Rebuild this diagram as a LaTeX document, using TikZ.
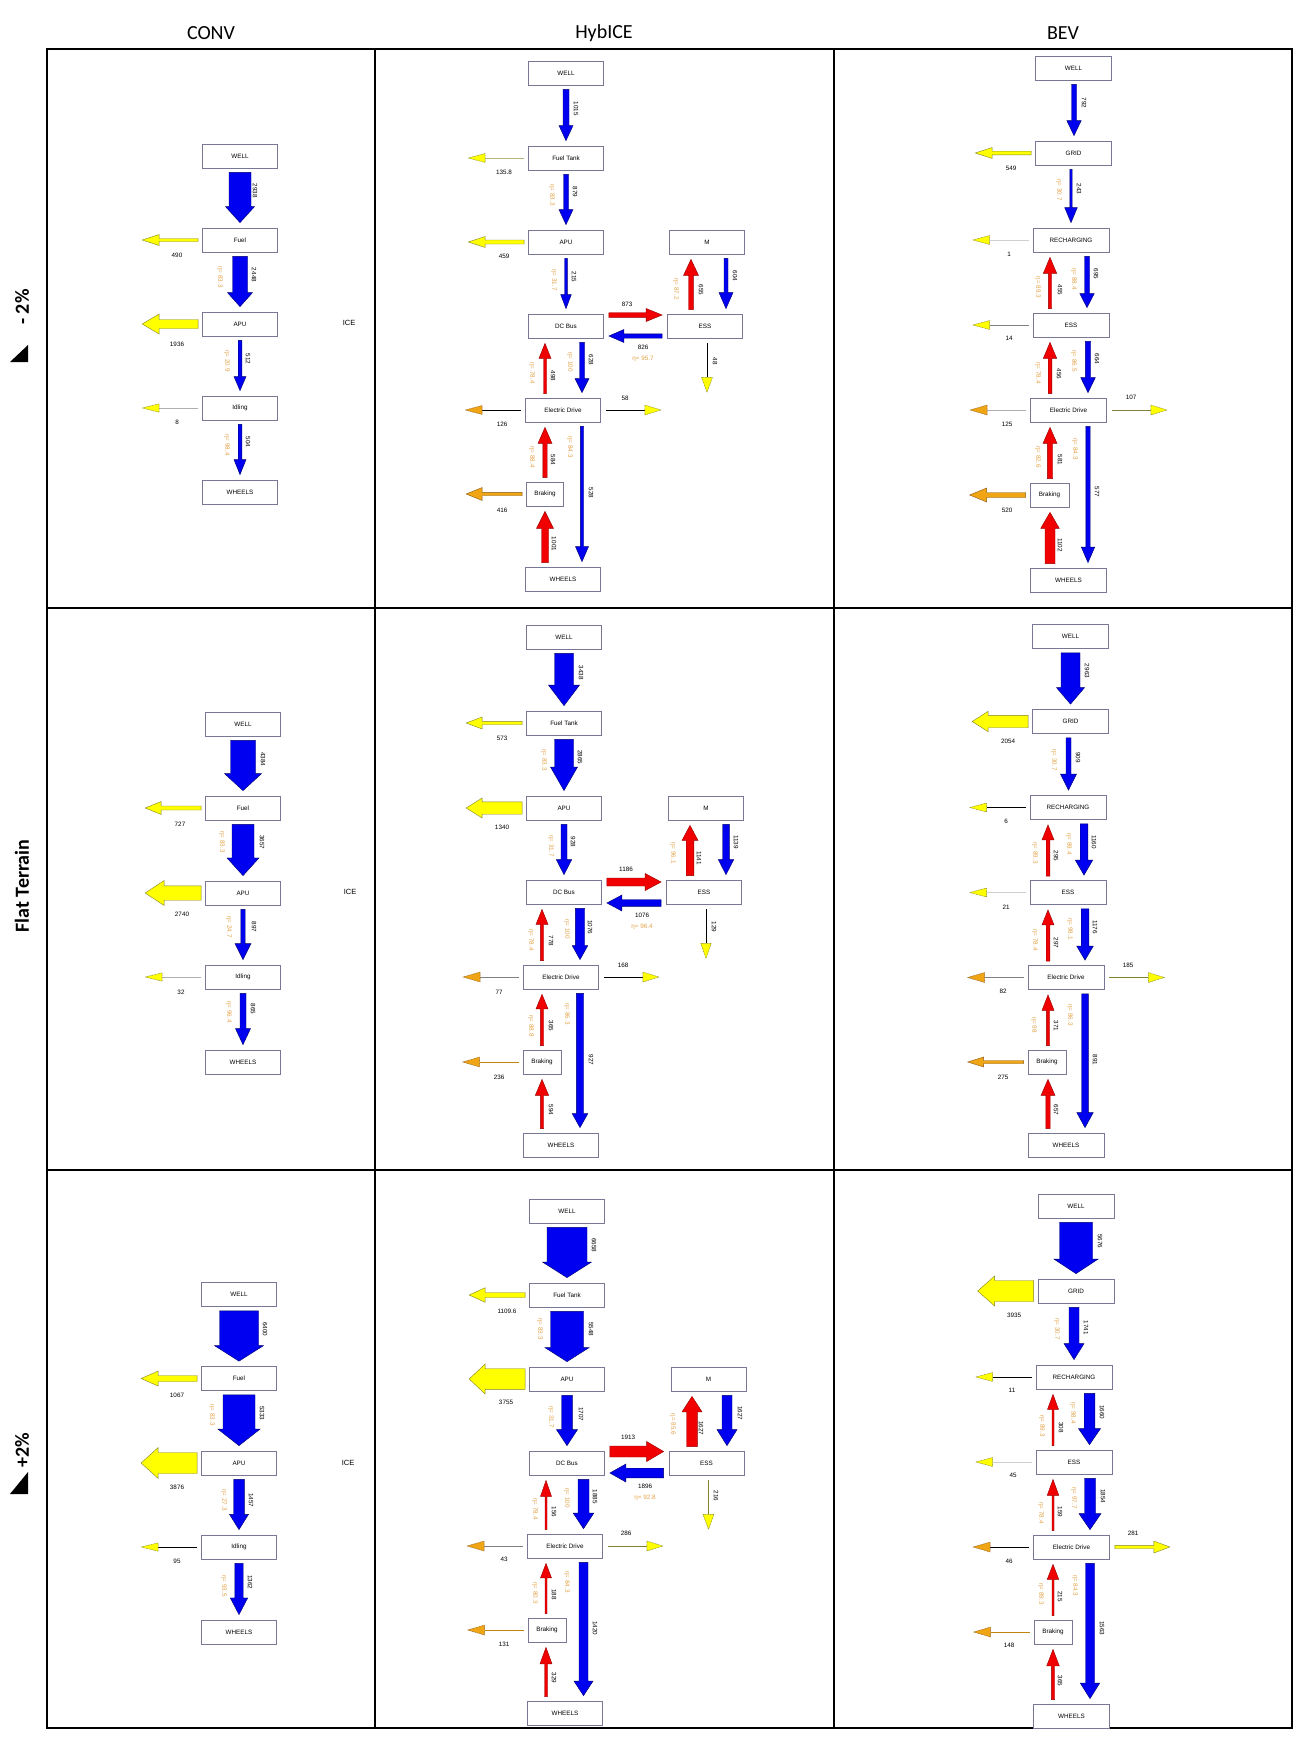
\documentclass[tikz,border=0pt]{standalone}
\usepackage{fontspec}
\setmainfont{Liberation Sans}
\newfontfamily\calib{Carlito}
\usetikzlibrary{calc}
\definecolor{blueF}{RGB}{0,0,240}
\definecolor{blueD}{RGB}{0,0,110}
\definecolor{redF}{RGB}{240,0,0}
\definecolor{redD}{RGB}{150,0,0}
\definecolor{yelF}{RGB}{255,255,0}
\definecolor{yelD}{RGB}{130,130,40}
\definecolor{orF}{RGB}{240,165,20}
\definecolor{orD}{RGB}{140,90,20}
\definecolor{etac}{RGB}{228,162,70}
\definecolor{lgray}{RGB}{175,175,175}
\definecolor{boxD}{RGB}{120,120,150}
\newcounter{labc}
\tikzset{
 bx/.style={draw=boxD, line width=0.7pt, fill=white, minimum height=24pt, inner sep=0pt, font=\fontsize{6.3}{7}\selectfont},
 vl/.style={font=\fontsize{6.3}{7}\selectfont, inner sep=0pt, rotate=-90},
 hl/.style={font=\fontsize{6.3}{7}\selectfont, inner sep=0pt},
 el/.style={font=\fontsize{6.3}{7}\selectfont, inner sep=0pt, rotate=-90, text=etac},
 eh/.style={font=\fontsize{6.3}{7}\selectfont, inner sep=0pt, text=etac},
 blueA/.style={fill=blueF, draw=blueD, line width=0.4pt},
 redA/.style={fill=redF, draw=redD, line width=0.4pt},
 yelA/.style={fill=yelF, draw=yelD, line width=0.4pt},
 orA/.style={fill=orF, draw=orD, line width=0.4pt},
 yelH/.style={fill=yelF, draw=yelD, line width=0.4pt, dash pattern=on 1pt off 0.6pt},
 orH/.style={fill=orF, draw=orD, line width=0.4pt, dash pattern=on 1pt off 0.6pt},
 hdr/.style={font=\calib\fontsize{20}{24}\selectfont, inner sep=0pt},
 rlab/.style={font=\calib\bfseries\fontsize{20}{24}\selectfont, inner sep=0pt, rotate=90},
}
\newcommand\BX[5]{\node[bx,minimum width=#4pt] (#1) at (#2,#3) {#5};}
\newcommand\VT[3]{\stepcounter{labc}\node[vl] (t\number\value{labc}) at (#1,#2) {#3};}
\newcommand\HT[3]{\stepcounter{labc}\node[hl] (t\number\value{labc}) at (#1,#2) {#3};}
\newcommand\ET[3]{\stepcounter{labc}\node[el] (t\number\value{labc}) at (#1,#2) {η= #3};}
\newcommand\EH[3]{\stepcounter{labc}\node[eh] (t\number\value{labc}) at (#1,#2) {η= #3};}
% block arrows: style, start, tip, half shaft, half head, head length
\newcommand\AD[6]{\filldraw[#1] let \p1=(#2), \p2=(#3) in (\x1-#4pt,\y1) -- (\x1+#4pt,\y1) -- (\x1+#4pt,\y2+#6pt) -- (\x1+#5pt,\y2+#6pt) -- (\x1,\y2) -- (\x1-#5pt,\y2+#6pt) -- (\x1-#4pt,\y2+#6pt) -- cycle;}
\newcommand\AU[6]{\filldraw[#1] let \p1=(#2), \p2=(#3) in (\x1-#4pt,\y1) -- (\x1+#4pt,\y1) -- (\x1+#4pt,\y2-#6pt) -- (\x1+#5pt,\y2-#6pt) -- (\x1,\y2) -- (\x1-#5pt,\y2-#6pt) -- (\x1-#4pt,\y2-#6pt) -- cycle;}
\newcommand\AL[6]{\filldraw[#1] let \p1=(#2), \p2=(#3) in (\x1,\y1+#4pt) -- (\x1,\y1-#4pt) -- (\x2+#6pt,\y1-#4pt) -- (\x2+#6pt,\y1-#5pt) -- (\x2,\y1) -- (\x2+#6pt,\y1+#5pt) -- (\x2+#6pt,\y1+#4pt) -- cycle;}
\newcommand\AR[6]{\filldraw[#1] let \p1=(#2), \p2=(#3) in (\x1,\y1+#4pt) -- (\x1,\y1-#4pt) -- (\x2-#6pt,\y1-#4pt) -- (\x2-#6pt,\y1-#5pt) -- (\x2,\y1) -- (\x2-#6pt,\y1+#5pt) -- (\x2-#6pt,\y1+#4pt) -- cycle;}
% line losses: line colour, head style, start, tip, half head, head length
\newcommand\LNL[6]{\draw[#1,line width=0.7pt] let \p1=(#3), \p2=(#4) in (\x1,\y1) -- (\x2+#6pt,\y1);
 \filldraw[#2] let \p1=(#3), \p2=(#4) in (\x2+#6pt,\y1+#5pt) -- (\x2,\y1) -- (\x2+#6pt,\y1-#5pt) -- cycle;}
\newcommand\LNR[6]{\draw[#1,line width=0.7pt] let \p1=(#3), \p2=(#4) in (\x1,\y1) -- (\x2-#6pt,\y1);
 \filldraw[#2] let \p1=(#3), \p2=(#4) in (\x2-#6pt,\y1+#5pt) -- (\x2,\y1) -- (\x2-#6pt,\y1-#5pt) -- cycle;}
\newcommand\LND[6]{\draw[#1,line width=0.7pt] let \p1=(#3), \p2=(#4) in (\x1,\y1) -- (\x1,\y2+#6pt);
 \filldraw[#2] let \p1=(#3), \p2=(#4) in (\x1-#5pt,\y2+#6pt) -- (\x1,\y2) -- (\x1+#5pt,\y2+#6pt) -- cycle;}
% node-to-node connectors
\newcommand\VD[7]{\AD{#1}{$(#2.south)+(#4,4)$}{$(#3.north)+(#4,-5)$}{#5}{#6}{#7}}
\newcommand\VU[7]{\AU{#1}{$(#2.north)+(#4,-4)$}{$(#3.south)+(#4,5)$}{#5}{#6}{#7}}
\newcommand\HR[7]{\AR{#1}{$(#2.east)+(5,#4)$}{$(#3.west)+(-5,#4)$}{#5}{#6}{#7}}
\newcommand\HL[7]{\AL{#1}{$(#2.west)+(-5,#4)$}{$(#3.east)+(5,#4)$}{#5}{#6}{#7}}
\newcommand\LB[5]{\AL{#1}{$(#2.west)+(-4,0)$}{$(#2.west)+(-60,0)$}{#3}{#4}{#5}}
\newcommand\LBR[5]{\AR{#1}{$(#2.east)+(5,0)$}{$(#2.east)+(60,0)$}{#3}{#4}{#5}}
\newcommand\LL[4]{\LNL{#1}{#2}{$(#3.west)+(-4,0)$}{$(#3.west)+(-60,0)$}{#4}{17}}
\newcommand\LR[4]{\LNR{#1}{#2}{$(#3.east)+(5,0)$}{$(#3.east)+(60,0)$}{#4}{16}}
\newcommand\LD[4]{\LND{#1}{#2}{$(#3.south)+(2,5)$}{$(#3.south)+(2,54)$}{#4}{15}}
\begin{document}
\begin{tikzpicture}[x=1pt,y=-1pt]
\useasboundingbox (0,0) rectangle (1301,1742);
\fill[white] (0,0) rectangle (1301,1742);
% ---------- table ----------
\draw[line width=2pt] (47,49) rectangle (1292,1728);
\draw[line width=2pt] (375,49) -- (375,1728) (834,49) -- (834,1728) (47,608) -- (1292,608) (47,1170) -- (1292,1170);
\node[hdr] (hc) at (211,33) {CONV};
\node[hdr] (hh) at (604,33) {HybICE};
\node[hdr] (hb) at (1063,33) {BEV};
\node[rlab] (r1) at (22,307) {- 2\%};
\fill (10,362) -- (28,362) -- (28,345) -- cycle;
\node[rlab] (r2) at (22,886) {Flat Terrain};
\node[rlab] (r3) at (22,1450) {+2\%};
\fill (10,1494) -- (28,1494) -- (28,1472) -- cycle;
% ---------- CONV row 1 ----------
\BX{c1w}{240}{156}{75}{WELL}
\BX{c1f}{240}{240}{75}{Fuel}
\BX{c1a}{240}{324}{75}{APU}
\BX{c1i}{240}{408}{75}{Idling}
\BX{c1h}{240}{492}{75}{WHEELS}
\VD{blueA}{c1w}{c1f}{0}{11}{14.5}{16}
\VD{blueA}{c1f}{c1a}{0}{7.5}{12.5}{14}
\VD{blueA}{c1a}{c1i}{0}{1.8}{6}{14}
\VD{blueA}{c1i}{c1h}{0}{1.8}{6}{15}
\LB{yelA}{c1f}{1.5}{5.5}{17}
\LB{yelA}{c1a}{4.5}{10}{17}
\LL{lgray}{yelH}{c1i}{4.2}
\VT{255}{191}{2938}
\VT{254}{275}{2448} \ET{220}{277}{83.3}
\VT{248}{359}{512} \ET{227}{361}{20.9}
\VT{248}{442}{504} \ET{227}{445}{98.4}
\HT{177}{255}{490} \HT{177}{344}{1936} \HT{177}{422}{8}
\node[font=\fontsize{7.5}{9}\selectfont] (ice1) at (349,323) {ICE};
% ---------- CONV row 2 ----------
\BX{c2w}{243}{724}{75}{WELL}
\BX{c2f}{243}{808}{75}{Fuel}
\BX{c2a}{243}{893}{75}{APU}
\BX{c2i}{243}{977}{75}{Idling}
\BX{c2h}{243}{1062}{75}{WHEELS}
\VD{blueA}{c2w}{c2f}{0}{12.5}{18.5}{17}
\VD{blueA}{c2f}{c2a}{0}{11}{16}{17.7}
\VD{blueA}{c2a}{c2i}{0}{2.2}{8}{16}
\VD{blueA}{c2i}{c2h}{0}{3}{7.5}{16}
\LB{yelA}{c2f}{2}{6.5}{16}
\LB{yelA}{c2a}{7.2}{12.5}{19}
\LL{lgray}{yelH}{c2i}{4.2}
\VT{263}{759}{4384}
\VT{262}{842}{3657} \ET{222}{842}{83.3}
\VT{254}{927}{897} \ET{229}{927}{24.7}
\VT{253}{1009}{865} \ET{229}{1012}{96.4}
\HT{180}{824}{727} \HT{182}{914}{2740} \HT{181}{992}{32}
\node[font=\fontsize{7.5}{9}\selectfont] (ice2) at (350,892) {ICE};
% ---------- CONV row 3 ----------
\BX{c3w}{239}{1294.5}{75}{WELL}
\BX{c3f}{239}{1378.5}{75}{Fuel}
\BX{c3a}{239}{1463}{75}{APU}
\BX{c3i}{239}{1547}{75}{Idling}
\BX{c3h}{239}{1632}{75}{WHEELS}
\VD{blueA}{c3w}{c3f}{0}{19.5}{24.5}{15.5}
\VD{blueA}{c3f}{c3a}{0}{16}{21}{16.5}
\VD{blueA}{c3a}{c3i}{0}{5.3}{9.5}{15.3}
\VD{blueA}{c3i}{c3h}{0}{4.2}{8.7}{16.7}
\LB{yelA}{c3f}{3}{7.5}{17}
\LB{yelA}{c3a}{10.5}{15.5}{17}
\LL{black}{yelH}{c3i}{4.2}
\VT{265}{1329}{6400}
\VT{262}{1413}{5333} \ET{212}{1415}{83.3}
\VT{251}{1500}{1457} \ET{224}{1500}{27.3}
\VT{250}{1582}{1362} \ET{224}{1586}{93.5}
\HT{177}{1395.5}{1067} \HT{177}{1487.5}{3876} \HT{177}{1561}{95}
\node[font=\fontsize{7.5}{9}\selectfont] (ice3) at (348,1463) {ICE};
% ---------- HybICE row 1 ----------
\BX{h1w}{566}{73}{75}{WELL}
\BX{h1f}{566}{158}{75}{Fuel Tank}
\BX{h1a}{566}{242}{75}{APU}
\BX{h1m}{707}{242}{75}{M}
\BX{h1d}{566}{326}{75}{DC Bus}
\BX{h1e}{705}{326}{75}{ESS}
\BX{h1x}{563}{410}{75}{Electric Drive}
\BX{h1b}{545}{494}{37}{Braking}
\BX{h1h}{563}{579}{75}{WHEELS}
\VD{blueA}{h1w}{h1f}{0}{3}{7}{15}
\VD{blueA}{h1f}{h1a}{0}{2.5}{7}{15}
\VD{blueA}{h1a}{h1d}{0}{1.3}{5.3}{14}
\HR{redA}{h1d}{h1e}{-11}{2.3}{6.5}{16}
\HL{blueA}{h1e}{h1d}{10}{2.2}{6.5}{15}
\VU{redA}{h1e}{h1m}{-14}{2.3}{7.5}{16}
\VD{blueA}{h1m}{h1e}{19}{2}{7}{16}
\LD{black}{yelH}{h1e}{5.5}
\VU{redA}{h1x}{h1d}{-18}{1.5}{6}{15}
\VD{blueA}{h1d}{h1x}{16}{2.5}{7}{14}
\LR{black}{yelH}{h1x}{5}
\LL{black}{orH}{h1x}{4.5}
\VU{redA}{h1b}{h1x}{0}{2.2}{7}{16}
\VD{blueA}{h1x}{h1h}{19}{1.7}{6.5}{15}
\VU{redA}{h1h}{h1b}{-18}{3.5}{8.5}{17}
\LB{orA}{h1b}{1.7}{6.5}{16}
\LL{yelD!60}{yelH}{h1f}{4.5}
\LB{yelA}{h1a}{2}{5.5}{17}
\VT{576}{109}{1015}
\VT{575}{192}{879} \ET{552}{195}{83.3}
\VT{574}{277}{215} \ET{554}{280}{31.7}
\HT{627}{304}{873}
\HT{643}{347}{826} \EH{643}{359}{95.7}
\VT{701}{290}{655} \ET{676}{289}{87.2}
\VT{735}{276}{604}
\VT{715}{361}{48}
\VT{553}{376}{498} \ET{532}{373}{78.4}
\VT{591}{360}{628} \ET{570}{362}{100}
\HT{625}{398}{58}
\HT{502}{424}{126}
\VT{553}{460}{584} \ET{532}{457}{88.4}
\VT{591}{493}{528} \ET{570}{447}{84.3}
\VT{554}{544}{1001}
\HT{502}{510}{416}
\HT{504}{172}{135.8}
\HT{504}{256}{459}
% ---------- HybICE row 2 ----------
\BX{h2w}{564}{637}{75}{WELL}
\BX{h2f}{564}{723}{75}{Fuel Tank}
\BX{h2a}{564}{808}{75}{APU}
\BX{h2m}{706}{808}{75}{M}
\BX{h2d}{564}{892}{75}{DC Bus}
\BX{h2e}{704}{892}{75}{ESS}
\BX{h2x}{561}{977}{75}{Electric Drive}
\BX{h2b}{542}{1062}{38}{Braking}
\BX{h2h}{561}{1145}{75}{WHEELS}
\VD{blueA}{h2w}{h2f}{0}{9.5}{15.5}{20.5}
\VD{blueA}{h2f}{h2a}{0}{9.5}{13.5}{23.6}
\VD{blueA}{h2a}{h2d}{0}{3}{7.7}{15}
\HR{redA}{h2d}{h2e}{-10}{4}{8.5}{16}
\HL{blueA}{h2e}{h2d}{11}{3.3}{8}{15}
\VU{redA}{h2e}{h2m}{-14}{3.8}{8}{15}
\VD{blueA}{h2m}{h2e}{20}{3.3}{7.7}{15}
\LD{black}{yelH}{h2e}{5.3}
\VU{redA}{h2x}{h2d}{-19}{1.7}{6}{15}
\VD{blueA}{h2d}{h2x}{16}{4.7}{7.8}{14}
\LR{black}{yelH}{h2x}{5}
\LL{gray}{orH}{h2x}{5}
\VU{redA}{h2b}{h2x}{0}{1.7}{6}{14.5}
\VD{blueA}{h2x}{h2h}{19}{3.7}{7.8}{14}
\VU{redA}{h2h}{h2b}{-19}{1.7}{6.7}{16}
\LL{orF!80!black}{orH}{h2b}{5}
\LB{yelA}{h2f}{1.7}{6}{16}
\LB{yelA}{h2a}{6.2}{10}{16}
\VT{581}{672.5}{3438}
\VT{580}{757}{2865} \ET{544}{760}{83.3}
\VT{573}{842}{928} \ET{551}{846}{31.7}
\HT{626}{869}{1186}
\HT{642}{915}{1076} \EH{642}{927}{96.4}
\VT{699}{858}{1141} \ET{673}{853}{96.1}
\VT{736}{842}{1139}
\VT{714}{927}{129}
\VT{551}{941}{778} \ET{531}{940}{78.4}
\VT{590}{927}{1076} \ET{567}{929}{100}
\HT{623}{965}{168}
\HT{499}{992}{77}
\VT{551}{1026}{365} \ET{531}{1026}{88.8}
\VT{591}{1060}{927} \ET{567}{1014}{86.3}
\VT{551}{1110}{594}
\HT{499}{1077}{236}
\HT{502}{738}{573}
\HT{502}{827}{1340}
% ---------- HybICE row 3 ----------
\BX{h3w}{567}{1211}{75}{WELL}
\BX{h3f}{567}{1295}{75}{Fuel Tank}
\BX{h3a}{567}{1379}{75}{APU}
\BX{h3m}{708.5}{1379}{75}{M}
\BX{h3d}{567}{1463}{75}{DC Bus}
\BX{h3e}{706.5}{1463}{75}{ESS}
\BX{h3x}{565}{1546}{75}{Electric Drive}
\BX{h3b}{547}{1630}{38}{Braking}
\BX{h3h}{565}{1713}{75}{WHEELS}
\VD{blueA}{h3w}{h3f}{0}{20}{24.5}{15.6}
\VD{blueA}{h3f}{h3a}{0}{16.5}{22}{14}
\VD{blueA}{h3a}{h3d}{0}{5.3}{10.5}{16}
\HR{redA}{h3d}{h3e}{-11.5}{5.5}{10}{17}
\HL{blueA}{h3e}{h3d}{10}{4.8}{9}{16}
\VU{redA}{h3e}{h3m}{-14.5}{5.3}{10}{15.5}
\VD{blueA}{h3m}{h3e}{18.5}{5}{10}{16}
\LD{yelD}{yelH}{h3e}{5.5}
\VU{redA}{h3x}{h3d}{-19}{1}{5.5}{16}
\VD{blueA}{h3d}{h3x}{16.5}{5.5}{10.3}{15.5}
\LR{yelD}{yelH}{h3x}{5}
\LL{gray}{orH}{h3x}{5}
\VU{redA}{h3b}{h3x}{-1}{1}{5.5}{14.5}
\VD{blueA}{h3x}{h3h}{18.5}{4.5}{9.5}{14.5}
\VU{redA}{h3h}{h3b}{-19}{1.5}{6}{16.5}
\LL{orF!80!black}{orH}{h3b}{5}
\LB{yelA}{h3f}{2.5}{7.3}{16}
\LB{yelA}{h3a}{10.3}{15}{16}
\VT{594}{1245}{6658}
\VT{591}{1329}{5548} \ET{540}{1329}{83.3}
\VT{581}{1414}{1707} \ET{551}{1417}{31.7}
\HT{628}{1437}{1913}
\HT{645}{1486}{1896} \EH{645}{1498}{92.8}
\VT{701}{1428}{1627} \ET{673}{1424.5}{85.6}
\VT{740}{1413}{1627}
\VT{716}{1496}{216}
\VT{554}{1512}{156} \ET{535}{1509}{78.4}
\VT{595}{1496.5}{1885} \ET{567}{1498}{100}
\HT{626}{1533}{286}
\HT{504}{1559}{43}
\VT{554}{1594.7}{188} \ET{535}{1593}{80.3}
\VT{595}{1628}{1420} \ET{567}{1582}{84.3}
\VT{554}{1678}{329}
\HT{504}{1644}{131}
\HT{507}{1311}{1109.6}
\HT{506}{1402}{3755}
% ---------- BEV row 1 ----------
\BX{b1w}{1073.5}{68}{76}{WELL}
\BX{b1g}{1073.5}{153}{76}{GRID}
\BX{b1r}{1071}{240}{76}{RECHARGING}
\BX{b1e}{1071}{325}{76}{ESS}
\BX{b1x}{1068.5}{410}{76}{Electric Drive}
\BX{b1b}{1049.5}{495}{39}{Braking}
\BX{b1h}{1068.5}{580}{76}{WHEELS}
\VD{blueA}{b1w}{b1g}{0.5}{2.5}{7.2}{15}
\VD{blueA}{b1g}{b1r}{-2.5}{1.2}{6.3}{15}
\VD{blueA}{b1r}{b1e}{16}{2.5}{7.2}{14}
\VU{redA}{b1e}{b1r}{-21}{1.7}{6.7}{16}
\VD{blueA}{b1e}{b1x}{17}{2.7}{7.3}{15}
\VU{redA}{b1x}{b1e}{-18.5}{1.8}{6.7}{16}
\LR{yelD!80!gray}{yelH}{b1x}{5}
\LL{lgray}{orH}{b1x}{5}
\VU{redA}{b1b}{b1x}{0.5}{2.7}{7}{16}
\VD{blueA}{b1x}{b1h}{19.5}{2.2}{6.7}{15.5}
\VU{redA}{b1h}{b1b}{-18.5}{5}{9.3}{16}
\LB{orA}{b1b}{2.5}{7}{17}
\LB{yelA}{b1g}{1.8}{5.5}{17}
\LL{lgray!60}{yelH}{b1r}{4.5}
\LL{gray}{yelH}{b1e}{4.5}
\VT{1084}{103}{792}
\VT{1079}{189}{243} \ET{1059}{190}{30.7}
\VT{1096}{274}{695} \ET{1074}{279}{88.4}
\VT{1060}{290}{455} \ET{1038}{287.5}{89.3}
\VT{1097}{359}{664} \ET{1074}{361}{86.5}
\VT{1059}{374}{456} \ET{1038}{373}{78.4}
\HT{1131}{397}{107}
\HT{1007}{424}{125}
\VT{1060}{460}{581} \ET{1038}{457}{82.6}
\VT{1097}{492}{577} \ET{1075}{449}{84.3}
\VT{1060}{545}{1102}
\HT{1007}{510}{520}
\HT{1011}{168}{549}
\HT{1009}{254}{1}
\HT{1009}{338.6}{14}
% ---------- BEV row 2 ----------
\BX{b2w}{1070.5}{636.5}{76}{WELL}
\BX{b2g}{1070.5}{721.5}{76}{GRID}
\BX{b2r}{1068}{807.5}{76}{RECHARGING}
\BX{b2e}{1068}{892.5}{76}{ESS}
\BX{b2x}{1066}{977.5}{76}{Electric Drive}
\BX{b2b}{1047}{1062}{38}{Braking}
\BX{b2h}{1066}{1145}{76}{WHEELS}
\VD{blueA}{b2w}{b2g}{0}{9.5}{14}{16.5}
\VD{blueA}{b2g}{b2r}{-2}{2.5}{8}{16}
\VD{blueA}{b2r}{b2e}{16}{3.8}{8.7}{15}
\VU{redA}{b2e}{b2r}{-20}{1.8}{6}{15}
\VD{blueA}{b2e}{b2x}{17}{3.8}{8.3}{14}
\VU{redA}{b2x}{b2e}{-18}{1.8}{6}{15}
\LR{yelD}{yelH}{b2x}{5}
\LL{gray}{orH}{b2x}{5}
\VU{redA}{b2b}{b2x}{1}{1.7}{6}{15.5}
\VD{blueA}{b2x}{b2h}{19}{3.3}{8.2}{15}
\VU{redA}{b2h}{b2b}{-18}{2.2}{7}{16}
\LB{orA}{b2b}{1.5}{5}{16}
\LB{yelA}{b2g}{6.2}{10.2}{16}
\LL{black}{yelH}{b2r}{4.5}
\LL{lgray!60}{yelH}{b2e}{4.5}
\VT{1087}{671}{2963}
\VT{1078}{757.6}{909} \ET{1054}{760}{30.7}
\VT{1094}{842}{1160} \ET{1069}{844}{89.4}
\VT{1056}{856}{295} \ET{1035}{853}{89.3}
\VT{1095}{927}{1176} \ET{1070}{929}{98.1}
\VT{1056}{943}{297} \ET{1035}{940}{78.4}
\HT{1128}{965.4}{185}
\HT{1003}{991.7}{82}
\VT{1056}{1026}{371} \ET{1034}{1025}{98}
\VT{1095}{1060}{891} \ET{1070}{1015}{86.3}
\VT{1056}{1110}{657}
\HT{1003}{1077}{275}
\HT{1008}{741.7}{2054}
\HT{1006}{821.5}{6}
\HT{1006}{907}{21}
% ---------- BEV row 3 ----------
\BX{b3w}{1076}{1206}{76}{WELL}
\BX{b3g}{1076}{1291}{76}{GRID}
\BX{b3r}{1074}{1377}{76}{RECHARGING}
\BX{b3e}{1074}{1462}{76}{ESS}
\BX{b3x}{1071.5}{1547}{76}{Electric Drive}
\BX{b3b}{1053}{1632}{38}{Braking}
\BX{b3h}{1071.5}{1716}{76}{WHEELS}
\VD{blueA}{b3w}{b3g}{0}{16.5}{22}{14.5}
\VD{blueA}{b3g}{b3r}{-2}{5}{10}{16}
\VD{blueA}{b3r}{b3e}{15.5}{5.3}{11}{16}
\VU{redA}{b3e}{b3r}{-21}{1}{5.5}{15}
\VD{blueA}{b3e}{b3x}{16}{5.5}{11}{16}
\VU{redA}{b3x}{b3e}{-18.5}{1}{5.8}{16}
\LBR{yelA}{b3x}{1.7}{6}{16}
\LL{black}{orH}{b3x}{5}
\VU{redA}{b3b}{b3x}{0}{1}{5.8}{15}
\VD{blueA}{b3x}{b3h}{18.5}{4.5}{9.7}{15.5}
\VU{redA}{b3h}{b3b}{-18.5}{1.7}{6.3}{16.6}
\LL{orF!80!black}{orH}{b3b}{5}
\LB{yelA}{b3g}{10.5}{15}{17}
\LL{black}{yelH}{b3r}{4.5}
\LL{lgray!60}{yelH}{b3e}{4.5}
\VT{1100}{1241}{5676}
\VT{1086}{1327.5}{1741} \ET{1057}{1329}{30.7}
\VT{1102}{1412}{1660} \ET{1073}{1413}{98.4}
\VT{1061}{1427.5}{308} \ET{1042}{1426}{89.3}
\VT{1103}{1496}{1854} \ET{1074}{1498}{97.7}
\VT{1060}{1512}{159} \ET{1041}{1513}{78.4}
\HT{1133}{1533.6}{281}
\HT{1009}{1561}{46}
\VT{1060}{1596.5}{215} \ET{1041}{1594}{89.3}
\VT{1102}{1628}{1563} \ET{1075}{1585.6}{84.3}
\VT{1060}{1681}{365}
\HT{1009}{1645.6}{148}
\HT{1014}{1315.5}{3935}
\HT{1012}{1390}{11}
\HT{1013}{1475.5}{45}
\end{tikzpicture}
\end{document}
